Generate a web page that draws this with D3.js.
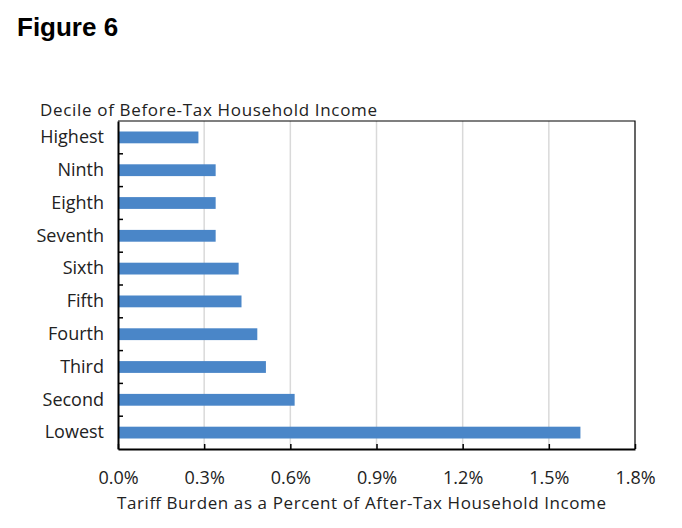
<!DOCTYPE html>
<html><head><meta charset="utf-8">
<script src="https://cdn.jsdelivr.net/npm/d3@7"></script>
<style>body{margin:0;background:#fff}svg{display:block}</style>
</head><body>
<script>
const categories = ["Highest","Ninth","Eighth","Seventh","Sixth","Fifth","Fourth","Third","Second","Lowest"];
const values = [0.28,0.34,0.34,0.34,0.42,0.43,0.485,0.515,0.615,1.61];
const xTicks = [0,0.3,0.6,0.9,1.2,1.5,1.8];
const title = "Figure 6";
const yTitle = "Decile of Before-Tax Household Income";
const xTitle = "Tariff Burden as a Percent of After-Tax Household Income";

const W=682,H=528;
const m={l:118,r:47,t:121,b:79};
const svg=d3.select("body").append("svg").attr("width",W).attr("height",H);
const font="'Open Sans', Lato, sans-serif";
const x=d3.scaleLinear().domain([0,1.8]).range([m.l,W-m.r]);
const y=d3.scaleBand().domain(categories).range([m.t,H-m.b]).paddingInner(0.64).paddingOuter(0.32);
const yb=d3.scaleBand().domain(categories).range([m.t,H-m.b]);

svg.append("text").attr("x",17).attr("y",36).attr("font-family","'Liberation Sans', Arial, sans-serif")
  .attr("font-weight","bold").attr("font-size",26).text(title);

// gridlines
svg.append("g").selectAll("line").data(xTicks.slice(1,-1)).join("line")
  .attr("x1",d=>x(d)).attr("x2",d=>x(d)).attr("y1",m.t).attr("y2",H-m.b)
  .attr("stroke","#d9d9d9").attr("stroke-width",1.5);

// bars
svg.append("g").selectAll("rect").data(values).join("rect")
  .attr("x",x(0)).attr("y",(d,i)=>y(categories[i])).attr("width",d=>x(d)-x(0))
  .attr("height",y.bandwidth()).attr("fill","#4a86c8");

// border top/right
svg.append("path").attr("d",`M${m.l},${m.t}H${W-m.r}V${H-m.b}`).attr("fill","none").attr("stroke","#000").attr("stroke-width",1.2);

// x axis
const xa=svg.append("g").attr("transform",`translate(0,${H-m.b})`)
  .call(d3.axisBottom(x).tickValues(xTicks).tickSizeInner(-5).tickSizeOuter(0).tickFormat(d=>d.toFixed(1)+"%"));
xa.select(".domain").attr("stroke","#000").attr("stroke-width",2);
xa.selectAll(".tick line").attr("stroke","#000").attr("stroke-width",1.5);
xa.selectAll("text").attr("font-family",font).attr("font-size",18).attr("fill","#222").attr("dy",0).attr("y",35);

// y axis with ticks at band boundaries
const ya=svg.append("g").attr("transform",`translate(${m.l},0)`)
  .call(d3.axisLeft(y).tickSize(0).tickPadding(14));
ya.select(".domain").attr("stroke","#000").attr("stroke-width",2);
ya.selectAll("text").attr("font-family",font).attr("font-size",18).attr("fill","#222");
svg.append("g").selectAll("line").data(categories.slice(1)).join("line")
  .attr("x1",m.l).attr("x2",m.l+5).attr("y1",d=>yb(d)).attr("y2",d=>yb(d))
  .attr("stroke","#000").attr("stroke-width",1.5);

svg.append("text").attr("x",40).attr("y",116).attr("font-family",font).attr("font-size",17).attr("fill","#222")
  .attr("textLength",337).attr("lengthAdjust","spacing").text(yTitle);
svg.append("text").attr("x",117).attr("y",509).attr("font-family",font).attr("font-size",17).attr("fill","#222")
  .attr("textLength",489).attr("lengthAdjust","spacing").text(xTitle);
</script>
</body></html>
